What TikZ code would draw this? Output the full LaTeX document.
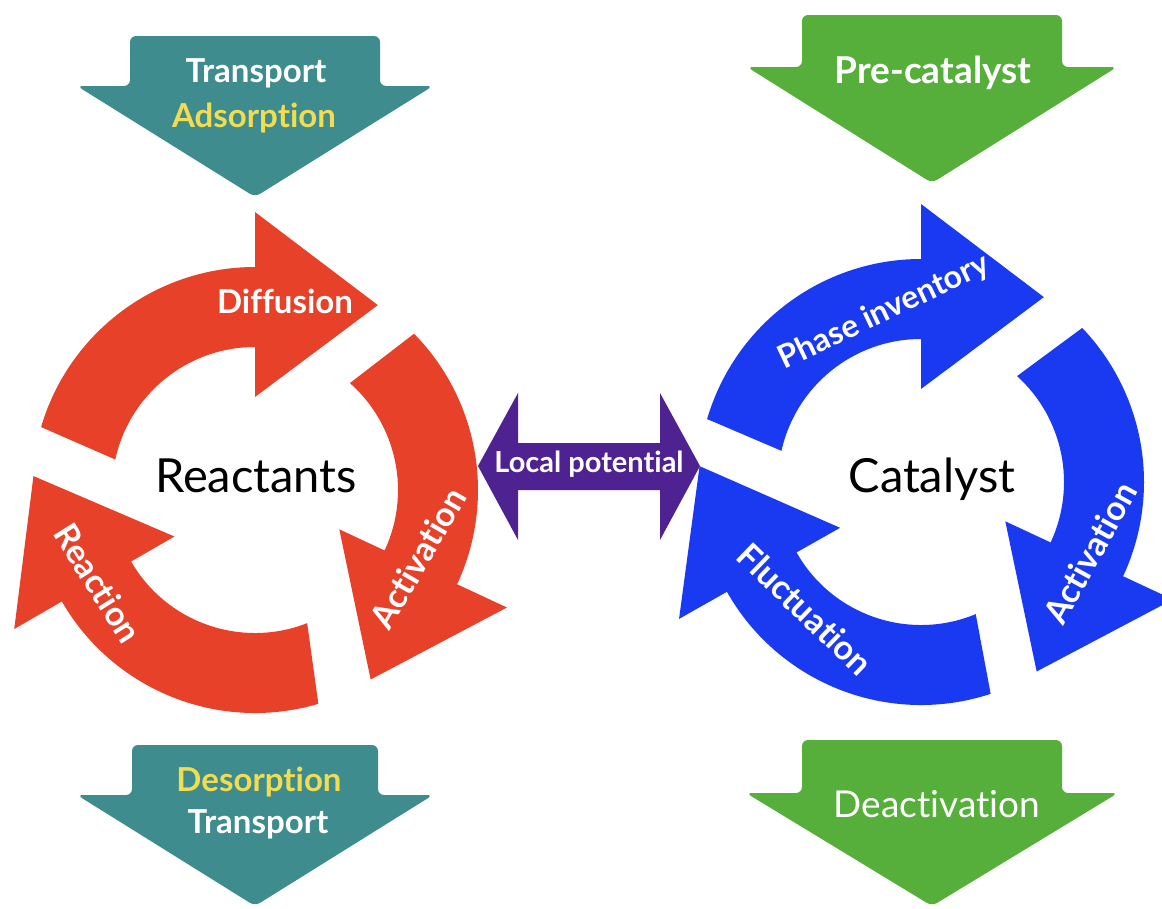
\documentclass[tikz,border=0pt]{standalone}
\usepackage{fontspec}
\setmainfont{Lato}[Ligatures=CommonOff]
\usepackage{tikz}

\definecolor{cycred}{HTML}{E8412A}
\definecolor{cycblue}{HTML}{1A3AF2}
\definecolor{flowteal}{HTML}{3F8C8F}
\definecolor{flowgreen}{HTML}{56AF3A}
\definecolor{flowyellow}{HTML}{F2DC50}
\definecolor{potpurple}{HTML}{4E2290}

\tikzset{
	lbl/.style={text=white, inner sep=0pt, font=\bfseries\fontsize{34}{40}\selectfont},
	flowlbl/.style={inner sep=0pt, anchor=base, font=\bfseries\fontsize{33}{40}\selectfont},
	centerlbl/.style={inner sep=0pt, anchor=base, text=black, font=\fontsize{47}{56}\selectfont}
}

\begin{document}
\begin{tikzpicture}
		[x=1pt, y=1pt]
		\useasboundingbox (0,0) rectangle (1162,-908);
		
		% in/out arrows
		\foreach \cx/\tp/\sh/\tip/\hr/\hw/\col in {255/36/86/197/125/178/flowteal, 932/15/67/183/130/185/flowgreen, 255/745/795/906/123/178/flowteal, 932/740/793/906/130/186/flowgreen}
		\fill[\col, rounded corners=6pt] ({\cx-\hr},-\tp) -- ({\cx+\hr},-\tp) -- ({\cx+\hr},-\sh) -- ({\cx+\hw},-\sh) -- (\cx,-\tip) -- ({\cx-\hw},-\sh) -- ({\cx-\hr},-\sh) -- cycle;
		
		\node[flowlbl, text=white](trans1) at (256,-82) {Transport};
		\node[flowlbl, text=flowyellow](adsorp) at (254,-127) {Adsorption};
		\node[flowlbl, text=white, font=\bfseries\fontsize{37}{44}\selectfont](precat) at (933,-83) {Pre-catalyst};
		\node[flowlbl, text=flowyellow](desorp) at (259,-791) {Desorption};
		\node[flowlbl, text=white](trans2) at (258,-833) {Transport};
		\node[flowlbl, text=white, font=\fontsize{37}{44}\selectfont](deact) at (937,-817) {Deactivation};
		
		% the two cycles
		\begin{scope}[shift={(255,-490)}]
		\foreach \h/\to/\ti in {90/163.6/167.7, -25/44.5/48.4, 210/286.5/291.4}
		\fill[cycred] (\to:223) arc[start angle=\to, end angle=\h, radius=223] -- (\h:278) -- ({\h-33.6}:222) -- (\h:93) -- (\h:143) arc[start angle=\h, end angle=\ti, radius=143] -- cycle;
		\end{scope}
		\begin{scope}[shift={(921,-482)}]
		\foreach \h/\to/\ti in {90/163.6/167.4, -25/43.7/47.8, 209.5/288.2/292.5}
		\fill[cycblue] (\to:223) arc[start angle=\to, end angle=\h, radius=223] -- (\h:278) -- ({\h-33.6}:222) -- (\h:93) -- (\h:143) arc[start angle=\h, end angle=\ti, radius=143] -- cycle;
		\end{scope}
		
		\node[centerlbl](reac) at (256,-492) {Reactants};
		\node[centerlbl](cat) at (932,-492) {Catalyst};
		
		\node[lbl, anchor=base, font=\bfseries\fontsize{33}{40}\selectfont](diff) at (285,-313) {Diffusion};
		\node[lbl, rotate=60](actR) at (418,-558) {Activation};
		\node[lbl, rotate=-58](reacn) at (98,-583) {Reaction};
		\node[lbl, rotate=25.5, font=\bfseries\fontsize{32}{38}\selectfont](phase) at (884,-312) {Phase inventory};
		\node[lbl, rotate=61](actB) at (1090,-553) {Activation};
		\node[lbl, rotate=-44](fluc) at (805,-609) {Fluctuation};
		
		% local potential
		\fill[potpurple] (478,-466) -- (518,-393) -- (518,-443) -- (660,-443) -- (660,-393) -- (700,-466) -- (660,-540) -- (660,-490) -- (518,-490) -- (518,-540) -- cycle;
		\node[lbl, anchor=base, font=\bfseries\fontsize{29}{34}\selectfont](local) at (589,-472) {Local potential};
		\end{tikzpicture}
\end{document}
